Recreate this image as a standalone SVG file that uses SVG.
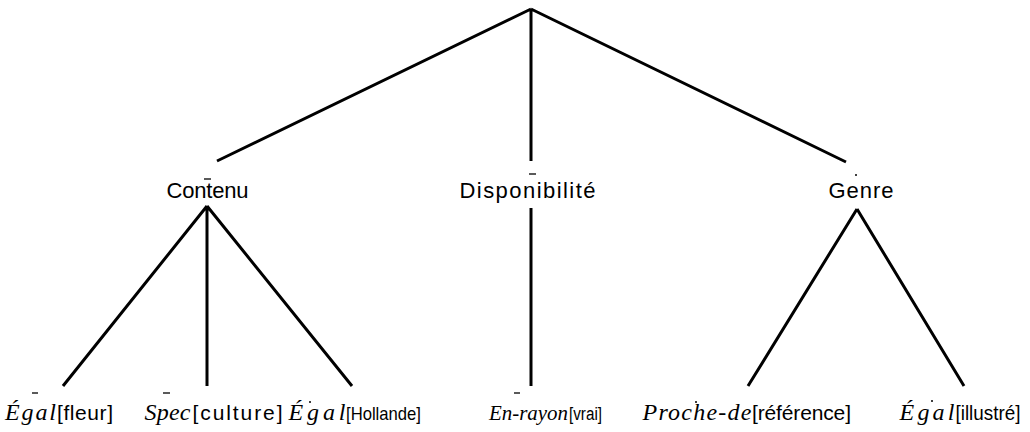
<svg xmlns="http://www.w3.org/2000/svg" width="1030" height="432" viewBox="0 0 1030 432">
<style>
.e{stroke:#000;stroke-width:3;fill:none;stroke-linecap:butt}
.n{font-family:"Liberation Sans",Arial,sans-serif;font-size:22px;fill:#000}
.s{font-family:"Liberation Sans",Arial,sans-serif;font-size:21px;fill:#000}
.i{font-family:"Liberation Serif","Times New Roman",serif;font-style:italic;font-size:24px;fill:#000}
.m{stroke:#000;stroke-width:1.3}
.d{fill:#000}
</style>
<rect width="1030" height="432" fill="#fff"/>
<g id="connectors">
<path class="e" d="M531,9 L217,161 M531,9 L531,161 M531,9 L846,162"/>
<path class="e" d="M207,206 L63,386 M207,206 L207,386 M207,206 L352,386"/>
<path class="e" d="M531,208 L531,386"/>
<path class="e" d="M857,209 L748,386 M857,209 L964,386"/>
</g>
<g id="n-contenu">
<text class="n" x="166.5" y="197.5" textLength="82" lengthAdjust="spacing">Contenu</text>
<line class="m" x1="204" y1="179" x2="211" y2="179"/>
</g>
<g id="n-dispo">
<text class="n" x="459.5" y="198" textLength="136" lengthAdjust="spacing">Disponibilité</text>
<line class="m" x1="529" y1="174" x2="536" y2="174"/>
</g>
<g id="n-genre">
<text class="n" x="828.5" y="198" textLength="65" lengthAdjust="spacing">Genre</text>
<circle class="d" cx="856" cy="175" r="1"/>
</g>
<g id="l-egal-fleur">
<text class="i" x="5" y="420" textLength="51" lengthAdjust="spacing">Égal</text>
<text class="s" x="57" y="420" textLength="56" lengthAdjust="spacing">[fleur]</text>
<line class="m" x1="32" y1="393" x2="38" y2="393"/>
</g>
<g id="l-spec-culture">
<text class="i" x="144.5" y="420" textLength="46" lengthAdjust="spacing">Spec</text>
<text class="s" x="192.5" y="420" textLength="90" lengthAdjust="spacing">[culture]</text>
<line class="m" x1="163" y1="393" x2="170" y2="393"/>
</g>
<g id="l-egal-hollande">
<text class="i" x="288.5" y="420" textLength="57" lengthAdjust="spacing">Égal</text>
<text class="s" x="346" y="420" textLength="75" lengthAdjust="spacingAndGlyphs" style="font-size:19px">[Hollande]</text>
<circle class="d" cx="310" cy="402" r="1"/>
</g>
<g id="l-enrayon-vrai">
<text class="i" x="489" y="420" textLength="79" lengthAdjust="spacingAndGlyphs" style="font-size:22px">En-rayon</text>
<text class="s" x="569" y="420" textLength="33" lengthAdjust="spacingAndGlyphs" style="font-size:18px">[vrai]</text>
<line class="m" x1="514" y1="393" x2="520" y2="393"/>
</g>
<g id="l-prochede-reference">
<text class="i" x="642.5" y="420" textLength="109" lengthAdjust="spacing">Proche-de</text>
<text class="s" x="752" y="420" textLength="99" lengthAdjust="spacing">[référence]</text>
<circle class="d" cx="696" cy="402" r="1"/>
</g>
<g id="l-egal-illustre">
<text class="i" x="899.5" y="420" textLength="55" lengthAdjust="spacing">Égal</text>
<text class="s" x="955.5" y="420" textLength="65" lengthAdjust="spacingAndGlyphs">[illustré]</text>
<circle class="d" cx="932" cy="401" r="1"/>
</g>
</svg>
